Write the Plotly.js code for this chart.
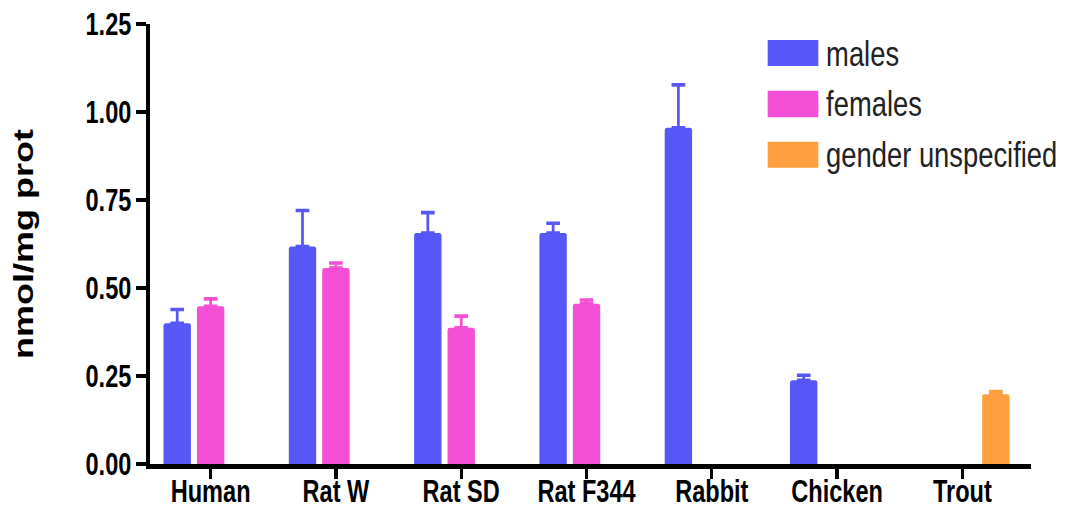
<!DOCTYPE html>
<html>
<head>
<meta charset="utf-8">
<script src="https://cdn.plot.ly/plotly-3.0.1.min.js"></script>
<style>
  html, body { margin: 0; padding: 0; background: #fff; overflow: hidden; }
  #wrap { width: 1077px; height: 513px; overflow: hidden; }
  #chart { width: 1417px; height: 513px; transform: scaleX(0.76); transform-origin: 0 0; }
</style>
</head>
<body>
<div id="wrap"><div id="chart"></div></div>
<script>
// ---- data ----
var categories = ["Human", "Rat W", "Rat SD", "Rat F344", "Rabbit", "Chicken", "Trout"];
var seriesNames = ["males", "females", "gender unspecified"];
var malesValues   = [0.400, 0.618, 0.656, 0.656, 0.955, 0.238, null];
var malesErrors   = [0.039, 0.102, 0.058, 0.028, 0.122, 0.014, null];
var femalesValues = [0.448, 0.557, 0.387, 0.455, null, null, null];
var femalesErrors = [0.021, 0.014, 0.033, 0.011, null, null, null];
var unspecValues  = [null, null, null, null, null, null, 0.198];
var unspecErrors  = [null, null, null, null, null, null, 0.008];
var yTickValues = [0, 0.25, 0.5, 0.75, 1.0, 1.25];
var yTickLabels = ["0.00", "0.25", "0.50", "0.75", "1.00", "1.25"];

// ---- styles ----
var colors = ["#5757F8", "#F44FD6", "#FF9F3F"];
var FONT = "'Liberation Sans', Arial, Helvetica, sans-serif";

function zeros(a) { return a.map(function (v) { return v === null ? null : 0; }); }

function barTrace(name, vals, errs, color) {
  return {
    type: "bar",
    name: name,
    x: categories,
    y: vals,
    marker: { color: color, line: { width: 0 }, cornerradius: 3 },
    error_y: {
      type: "data", symmetric: false, array: errs, arrayminus: zeros(errs),
      color: color, thickness: 3.6, width: 9
    },
    hoverinfo: "x+y+name"
  };
}

var data = [
  barTrace(seriesNames[0], malesValues, malesErrors, colors[0]),
  barTrace(seriesNames[1], femalesValues, femalesErrors, colors[1]),
  barTrace(seriesNames[2], unspecValues, unspecErrors, colors[2])
];

// custom legend (large swatches)
var legendY = [[0.9045, 0.9636], [0.788, 0.8484], [0.6734, 0.7325]];
var shapes = [], annotations = [];
for (var i = 0; i < seriesNames.length; i++) {
  shapes.push({
    type: "rect", xref: "paper", yref: "paper",
    x0: 0.7007, x1: 0.7582, y0: legendY[i][0], y1: legendY[i][1],
    fillcolor: colors[i], line: { width: 0 }
  });
  annotations.push({
    xref: "paper", yref: "paper", x: 0.7655, y: (legendY[i][0] + legendY[i][1]) / 2,
    xanchor: "left", yanchor: "middle", showarrow: false,
    text: seriesNames[i],
    font: { family: FONT, size: 36, color: "#222" }
  });
}

var layout = {
  width: 1417, height: 513,
  margin: { l: 198, r: 60, t: 24, b: 49, pad: 0 },
  paper_bgcolor: "#ffffff", plot_bgcolor: "#ffffff",
  showlegend: false,
  barmode: "group", bargap: 0.2, bargroupgap: 0.18,
  font: { family: FONT, color: "#000" },
  xaxis: {
    type: "category", range: [-0.48, 6.55], automargin: false,
    showline: true, linecolor: "#000", linewidth: 5,
    ticks: "outside", ticklen: 10, tickwidth: 4.4, tickcolor: "#000",
    showgrid: false, zeroline: false, fixedrange: true,
    tickfont: { family: FONT, size: 31, color: "#000", weight: 700 },
    ticklabelstandoff: -14
  },
  yaxis: {
    range: [0, 1.25], automargin: false,
    tickvals: yTickValues, ticktext: yTickLabels,
    showline: true, linecolor: "#000", linewidth: 6,
    ticks: "outside", ticklen: 13, tickwidth: 3.5, tickcolor: "#000",
    showgrid: false, zeroline: false, fixedrange: true,
    tickfont: { family: FONT, size: 31, color: "#000", weight: 700 },
    title: { text: "nmol/mg prot", standoff: 60,
             font: { family: FONT, size: 36, color: "#000", weight: 700 } }
  },
  shapes: shapes,
  annotations: annotations
};

Plotly.newPlot("chart", data, layout, { displayModeBar: false, staticPlot: true });
</script>
</body>
</html>
